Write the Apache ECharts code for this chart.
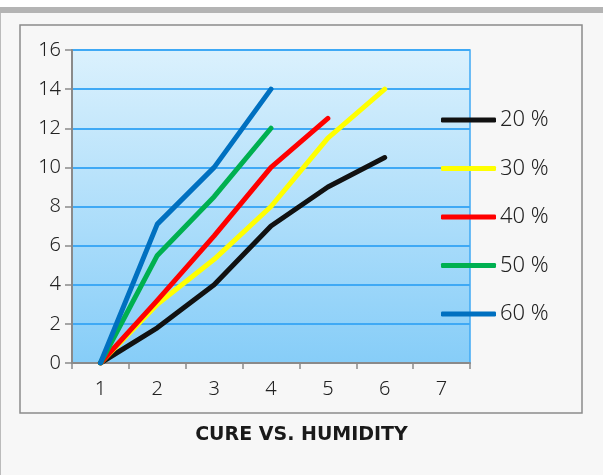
<!DOCTYPE html>
<html><head><meta charset="utf-8">
<script src="https://cdn.jsdelivr.net/npm/echarts@6/dist/echarts.min.js"></script>
<style>html,body{margin:0;padding:0;background:#f7f7f7}#c{width:603px;height:475px}</style>
</head><body><div id="c"></div>
<script>
const categories = ['1','2','3','4','5','6','7'];
const seriesNames = ['20 %','30 %','40 %','50 %','60 %'];
const h20 = [0, 1.8, 4.0, 7.0, 9.0, 10.5];
const h30 = [0, 3.0, 5.3, 8.0, 11.5, 14.0];
const h40 = [0, 3.2, 6.5, 10.0, 12.5];
const h50 = [0, 5.5, 8.5, 12.0];
const h60 = [0, 7.1, 10.0, 14.0];
const colors = ['#111111','#ffff00','#ff0000','#00b050','#0070c0'];
const values = [h20,h30,h40,h50,h60];
const FONT = '"Noto Sans", sans-serif';

const chart = echarts.init(document.getElementById('c'), null, {renderer:'canvas'});
chart.setOption({
  animation:false,
  backgroundColor:'#f7f7f7',
  graphic:[
    {type:'rect', shape:{x:0,y:0,width:603,height:7}, style:{fill:'#ffffff'}, z:-10},
    {type:'rect', shape:{x:0,y:7,width:603,height:6}, style:{fill:'#b4b4b4'}, z:-10},
    {type:'rect', shape:{x:0,y:13,width:1,height:462}, style:{fill:'#bbbbbb'}, z:-10},
    {type:'rect', shape:{x:20,y:25,width:562,height:388}, style:{fill:'none', stroke:'#8c8c8c', lineWidth:1.5}, z:-10},
    {type:'text', left:'center', top:426, style:{text:'CURE VS. HUMIDITY', font:'bold 19px "DejaVu Sans", sans-serif', fill:'#1a1a1a'}}
  ],
  grid:{left:72, top:50, right:133, bottom:112, show:true, borderColor:'#3fa9f5', borderWidth:1.5,
    backgroundColor:new echarts.graphic.LinearGradient(0,0,0,1,[{offset:0,color:'#dbf1fd'},{offset:1,color:'#86cdf8'}])},
  legend:{orient:'vertical', left:441, top:109, padding:0, itemGap:26.5, itemWidth:55, itemHeight:5, icon:'roundRect',
    textStyle:{fontSize:22, fontFamily:FONT, fontWeight:300, color:'#222', padding:[0,0,0,-1]},
    data:seriesNames},
  xAxis:{type:'category', data:categories, boundaryGap:true,
    axisLine:{lineStyle:{color:'#8a8a8a', width:2}},
    axisTick:{show:true, length:6, lineStyle:{color:'#8a8a8a', width:1.5}},
    axisLabel:{fontSize:20, fontFamily:FONT, fontWeight:300, color:'#222', margin:16},
    splitLine:{show:false}},
  yAxis:{type:'value', min:0, max:16, interval:2,
    axisLine:{show:true, lineStyle:{color:'#8a8a8a', width:2}},
    axisTick:{show:true, length:7, lineStyle:{color:'#8a8a8a', width:1.5}},
    axisLabel:{fontSize:20, fontFamily:FONT, fontWeight:300, color:'#222', margin:11},
    splitLine:{lineStyle:{color:'#3fa9f5', width:2}}},
  series: seriesNames.map((n,i)=>({
    name:n, type:'line', data:values[i], symbol:'none', color:colors[i],
    lineStyle:{width:5, color:colors[i], cap:'round', join:'round'}
  }))
});
</script></body></html>
